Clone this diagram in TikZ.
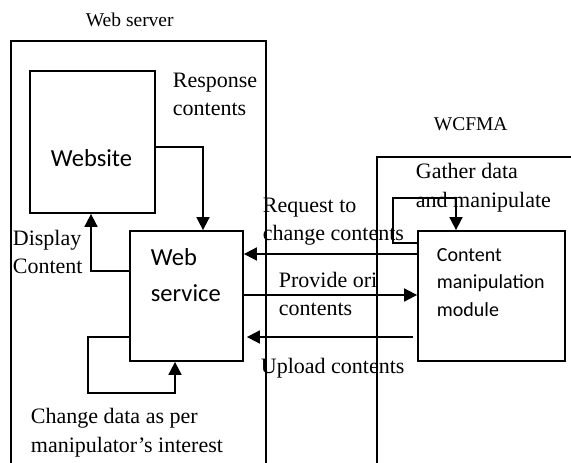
\documentclass[tikz,border=0pt]{standalone}
\usepackage{fontspec}
\setmainfont{Liberation Serif}
\newfontfamily\boxfont{Carlito}
\usetikzlibrary{arrows.meta}

\begin{document}
\begin{tikzpicture}[x=1pt,y=-1pt,
  line width=1.8pt,
  box/.style={draw,inner sep=0pt},
  lbl/.style={anchor=base west,inner sep=0pt,font=\fontsize{22}{26}\selectfont},
  ttl/.style={anchor=base west,inner sep=0pt,font=\fontsize{19.5}{24}\selectfont},
  inlbl/.style={anchor=base west,inner sep=0pt,font=\boxfont\fontsize{24.5}{30}\selectfont},
  modlbl/.style={anchor=base west,inner sep=0pt,font=\boxfont\fontsize{20}{26}\selectfont},
  arr/.style={-{Triangle[length=13pt,width=13pt]}}]
\useasboundingbox (0,0) rectangle (571,463);

% containers (open towards the bottom)
\draw (11,470) |- (266,41) -- (266,470);
\draw (377,470) |- (580,157);
\node[ttl] (srvtitle) at (85,27) {Web server};
\node[ttl] (wcftitle) at (433,130) {WCFMA};

% blocks
\node[box,minimum width=125,minimum height=142] (site) at (92.5,142) {};
\node[box,minimum width=113,minimum height=130] (svc) at (186.5,296) {};
\node[box,minimum width=147,minimum height=130] (cmm) at (491.5,296) {};

\node[inlbl] (sitetxt) at (50,166) {Website};
\node[inlbl] (svctxt1) at (150,265) {Web};
\node[inlbl] (svctxt2) at (150,301) {service};
\node[modlbl] (cmmtxt1) at (436,261) {Content};
\node[modlbl] (cmmtxt2) at (436,288) {manipulation};
\node[modlbl] (cmmtxt3) at (436,316) {module};

% connectors
\draw[arr] (site.east |- 0,147) -| (svc.north -| 203,0);
\draw[arr] (svc.west |- 0,271) -| (site.south -| 91,0);
\coordinate (loopA) at (88,393);
\draw[arr] (svc.west |- 0,337) -| (loopA) -| (svc.south -| 175,0);
\coordinate (loopB) at (393,198);
\draw[arr] (cmm.west |- 0,243) -| (loopB) -| (cmm.north -| 456,0);
\draw[arr] (cmm.west |- 0,254) -- (svc.east |- 0,254);
\draw[arr] (svc.east |- 0,295) -- (cmm.west |- 0,295);
\draw[arr,shorten <=4pt,shorten >=3pt] (cmm.west |- 0,337) -- (svc.east |- 0,337);

% labels
\node[lbl] (resp1) at (172,87) {Response};
\node[lbl] (resp2) at (172,115) {contents};
\node[lbl] (disp1) at (12,245) {Display};
\node[lbl] (disp2) at (12,273) {Content};
\node[lbl] (chg1) at (30,423) {Change data as per};
\node[lbl] (chg2) at (30,452) {manipulator’s interest};
\node[lbl] (req1) at (262,212) {Request to};
\node[lbl] (req2) at (262,240) {change contents};
\node[lbl] (prov1) at (278,287) {Provide ori};
\node[lbl] (prov2) at (278,315) {contents};
\node[lbl] (upl) at (260,373) {Upload contents};
\node[lbl] (gath1) at (415,178) {Gather data};
\node[lbl] (gath2) at (415,207) {and manipulate};
\end{tikzpicture}
\end{document}
